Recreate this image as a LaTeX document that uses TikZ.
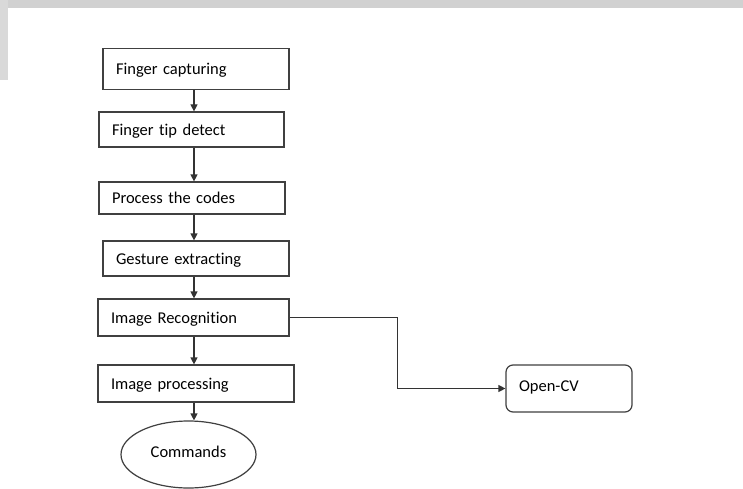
\documentclass[tikz,border=0pt]{standalone}
\usepackage{fontspec}
\setmainfont{Carlito}[Ligatures={NoCommon}]
\usetikzlibrary{arrows.meta,shapes.geometric}
\begin{document}
\begin{tikzpicture}[x=1pt,y=-1pt,
  font=\fontsize{16.5}{19}\selectfont,
  line width=1.2pt,
  stepbox/.style={draw=black!75, rectangle, anchor=center, align=left,
    inner xsep=13pt, inner ysep=0pt, text depth=0pt},
  flow/.style={draw=black!80, -{Triangle[length=7pt,width=7pt]}}]
\useasboundingbox (0,0) rectangle (743,489);
\fill[white] (0,0) rectangle (743,489);
\fill[black!18] (0,0) rectangle (743,8);
\fill[black!15] (0,0) rectangle (8,80);
\node[stepbox, text width=160pt, minimum height=41pt] (b1) at (196,69) {Finger capturing};
\node[stepbox, text width=159pt, minimum height=35pt] (b2) at (191.5,129.5) {Finger tip detect};
\node[stepbox, text width=160pt, minimum height=32pt] (b3) at (192,198) {Process the codes};
\node[stepbox, text width=160pt, minimum height=35pt] (b4) at (196,258.5) {Gesture extracting};
\node[stepbox, text width=165pt, minimum height=37pt] (b5) at (193.5,317.5) {Image Recognition};
\node[stepbox, text width=170pt, minimum height=37pt] (b6) at (196,383.5) {Image processing};
\node[draw=black!75, ellipse, minimum width=135pt, minimum height=67pt, inner sep=0pt] (e1) at (188.5,454.5) {\raisebox{6pt}{Commands}};
\node[draw=black!75, rounded corners=7pt, rectangle, anchor=center, align=left,
  text width=100pt, inner xsep=13pt, minimum height=47pt] (oc) at (569,388.5) {\raisebox{4pt}{Open-CV}};
\coordinate (ax) at (194,0);
\draw[flow] (b1.south -| ax) -- (b2.north -| ax);
\draw[flow] (b2.south -| ax) -- (b3.north -| ax);
\draw[flow] (b3.south -| ax) -- (b4.north -| ax);
\draw[flow] (b4.south -| ax) -- (b5.north -| ax);
\draw[flow] (b5.south -| ax) -- (b6.north -| ax);
\draw[flow] (b6.south -| ax) -- (e1.north -| ax);
\draw[flow] (b5.east) -- ++(108,0) |- (oc.west);
\end{tikzpicture}
\end{document}
